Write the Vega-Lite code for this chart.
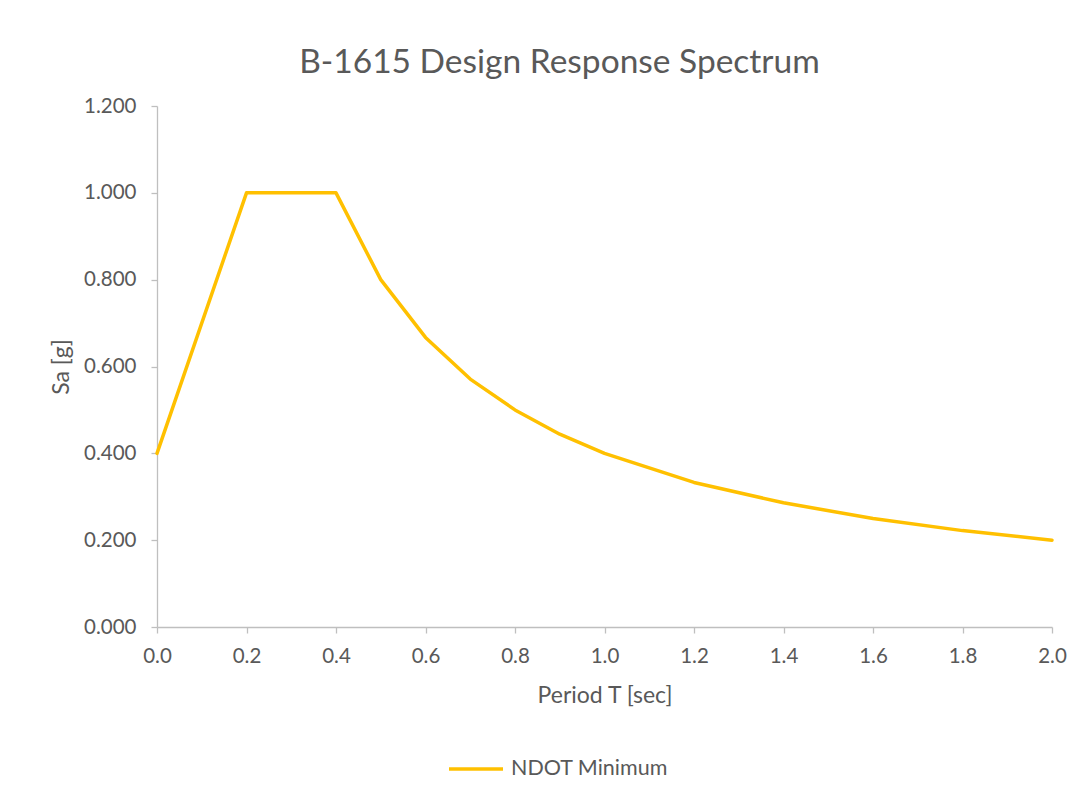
{
  "$schema": "https://vega.github.io/schema/vega-lite/v6.json",
  "width": 895,
  "height": 521,
  "autosize": {"type": "none"},
  "padding": {"left": 157, "top": 106, "right": 34, "bottom": 174},
  "background": "white",
  "config": {
    "font": "Lato",
    "view": {"stroke": null},
    "axis": {
      "domainColor": "#BFBFBF",
      "domainWidth": 1.3,
      "tickColor": "#BFBFBF",
      "tickWidth": 1.3,
      "tickSize": 6,
      "grid": false,
      "labelColor": "#595959",
      "labelFontSize": 20.5,
      "labelFont": "Lato",
      "labelFlush": false,
      "titleColor": "#595959",
      "titleFontSize": 23,
      "titleFontWeight": "normal",
      "titleFont": "Lato"
    }
  },
  "title": {
    "text": "B-1615 Design Response Spectrum",
    "fontSize": 33.5,
    "fontWeight": "normal",
    "color": "#595959",
    "font": "Lato",
    "anchor": "middle",
    "dx": -45,
    "offset": 16
  },
  "data": {
    "values": [
      {"T": 0.0, "Sa": 0.4, "series": "NDOT Minimum"},
      {"T": 0.2, "Sa": 1.0, "series": "NDOT Minimum"},
      {"T": 0.4, "Sa": 1.0, "series": "NDOT Minimum"},
      {"T": 0.5, "Sa": 0.8, "series": "NDOT Minimum"},
      {"T": 0.6, "Sa": 0.667, "series": "NDOT Minimum"},
      {"T": 0.7, "Sa": 0.571, "series": "NDOT Minimum"},
      {"T": 0.8, "Sa": 0.5, "series": "NDOT Minimum"},
      {"T": 0.9, "Sa": 0.444, "series": "NDOT Minimum"},
      {"T": 1.0, "Sa": 0.4, "series": "NDOT Minimum"},
      {"T": 1.2, "Sa": 0.333, "series": "NDOT Minimum"},
      {"T": 1.4, "Sa": 0.286, "series": "NDOT Minimum"},
      {"T": 1.6, "Sa": 0.25, "series": "NDOT Minimum"},
      {"T": 1.8, "Sa": 0.222, "series": "NDOT Minimum"},
      {"T": 2.0, "Sa": 0.2, "series": "NDOT Minimum"}
    ]
  },
  "mark": {"type": "line", "strokeWidth": 3.5, "strokeJoin": "round", "strokeCap": "round"},
  "encoding": {
    "x": {
      "field": "T",
      "type": "quantitative",
      "scale": {"domain": [0, 2], "nice": false, "zero": true},
      "axis": {"title": "Period T [sec]", "format": ".1f", "values": [0, 0.2, 0.4, 0.6, 0.8, 1.0, 1.2, 1.4, 1.6, 1.8, 2.0], "labelPadding": 13, "titlePadding": 18}
    },
    "y": {
      "field": "Sa",
      "type": "quantitative",
      "scale": {"domain": [0, 1.2], "nice": false},
      "axis": {"title": "Sa [g]", "format": ".3f", "values": [0, 0.2, 0.4, 0.6, 0.8, 1.0, 1.2], "labelPadding": 15, "titlePadding": 10}
    },
    "color": {
      "field": "series",
      "type": "nominal",
      "scale": {"range": ["#FFC000"]},
      "legend": {
        "title": null,
        "orient": "none",
        "legendX": 290,
        "legendY": 634,
        "symbolType": "stroke",
        "symbolSize": 2916,
        "symbolStrokeWidth": 3.5,
        "labelFontSize": 21.5,
        "labelColor": "#595959",
        "labelFont": "Lato",
        "labelOffset": 6
      }
    }
  }
}
